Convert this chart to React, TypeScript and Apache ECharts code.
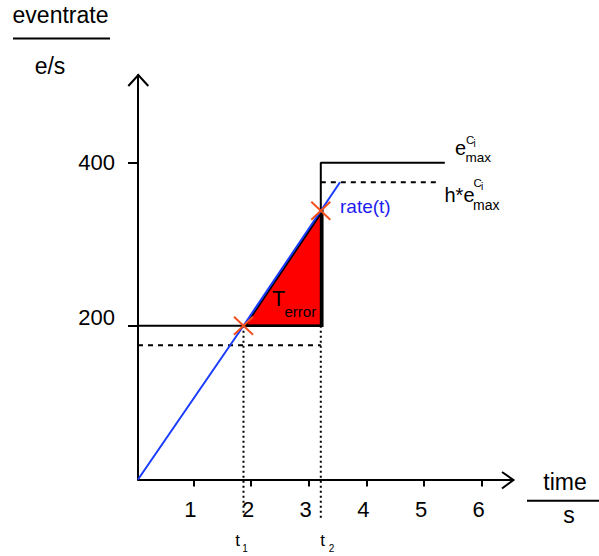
import React, { useEffect, useRef } from "react";
import * as echarts from "echarts";

// ---- data ----
const xTicks = [1, 2, 3, 4, 5, 6];
const yTicks = [200, 400];
const xMin = 0.041;
const xMax = 6.542;
const yMin = 11.3;
const yMax = 507.6;

const rateTime = [0.041, 1.87, 3.543];
const rateValue = [11.3, 200, 376];

const emaxTime = [0.041, 3.21, 3.21, 5.36];
const emaxValue = [200, 200, 400, 400];

const hLowTime = [0.041, 3.21];
const hLowValue = [176, 176];
const hHighTime = [3.21, 5.28];
const hHighValue = [376, 376];

const t1Time = [1.87, 1.87];
const t1Value = [200, -32];
const t2Time = [3.21, 3.21];
const t2Value = [200, -36];

const crossTime = [1.87, 3.21];
const crossValue = [200, 341];

const errorTime = [1.87, 3.21, 3.21];
const errorValue = [200, 200, 341];

// ---- styles ----
const FONT = '"Liberation Sans", Arial, sans-serif';
const BLUE = "#1a3cff";
const CROSS = "#f4511e";

const pairs = (xs: number[], ys: number[]) => xs.map((x, i) => [x, ys[i]]);

function txt(text: string, x: number, base: number, size: number, fill = "#000", align = "left") {
  return {
    type: "text",
    x,
    y: base - 0.3465 * size,
    z: 100,
    silent: true,
    style: {
      text,
      font: `${size}px ${FONT}`,
      fill,
      align,
      textAlign: align,
      verticalAlign: "middle",
      textVerticalAlign: "middle",
    },
  };
}

function hline(x1: number, x2: number, y: number, w = 2) {
  return {
    type: "line",
    z: 100,
    silent: true,
    shape: { x1, y1: y, x2, y2: y },
    style: { stroke: "#000", lineWidth: w },
  };
}

function chevron(points: number[][]) {
  return {
    type: "polyline",
    z: 100,
    silent: true,
    shape: { points },
    style: { stroke: "#000", lineWidth: 2, fill: "none" },
  };
}

function lineSeries(xs: number[], ys: number[], color: string, type: any, width: number, z: number) {
  return {
    type: "line",
    data: pairs(xs, ys),
    showSymbol: false,
    symbol: "none",
    silent: true,
    clip: false,
    z,
    lineStyle: { color, width, type },
  };
}

export default function App() {
  const ref = useRef<HTMLDivElement>(null);
  useEffect(() => {
    if (!ref.current) return;
    const chart = echarts.init(ref.current, undefined, { renderer: "svg" });
    const option: any = {
      animation: false,
      grid: { left: 138, right: 86, top: 75, bottom: 76.5, containLabel: false },
      xAxis: {
        type: "value",
        min: xMin,
        max: xMax,
        splitLine: { show: false },
        axisLine: { show: true, lineStyle: { color: "#000", width: 2 } },
        axisTick: { show: true, customValues: xTicks, length: 7, lineStyle: { color: "#000", width: 2 } },
        axisLabel: {
          customValues: xTicks,
          margin: 19,
          color: "#000",
          fontSize: 22,
          fontFamily: FONT,
          padding: [0, 6, 0, 0],
        },
      },
      yAxis: {
        type: "value",
        min: yMin,
        max: yMax,
        splitLine: { show: false },
        axisLine: { show: true, lineStyle: { color: "#000", width: 2 } },
        axisTick: { show: true, customValues: yTicks, length: 10, lineStyle: { color: "#000", width: 2 } },
        axisLabel: {
          customValues: yTicks,
          margin: 23,
          formatter: (v: number) => (v === 200 ? `{up|${v}}` : `{n|${v}}`),
          rich: {
            up: { fontSize: 22, fontFamily: FONT, color: "#000", padding: [0, 0, 16, 0] },
            n: { fontSize: 22, fontFamily: FONT, color: "#000" },
          },
        },
      },
      series: [
        {
          type: "custom",
          silent: true,
          z: 2,
          data: [[errorTime[0], errorValue[0]]],
          renderItem: (_p: any, api: any) => ({
            type: "polygon",
            shape: {
              points: errorTime.map((t, i) => {
                const c = api.coord([t, errorValue[i]]);
                return [c[0] + 1.5, c[1]];
              }),
            },
            style: { fill: "#ff0000", stroke: "#000", lineWidth: 2.5 },
          }),
        },
        lineSeries(emaxTime, emaxValue, "#000", "solid", 2, 3),
        lineSeries(hLowTime, hLowValue, "#000", [5, 5], 2, 3),
        lineSeries(hHighTime, hHighValue, "#000", [5, 5], 2, 3),
        lineSeries(t1Time, t1Value, "#000", [2, 3], 2, 3),
        lineSeries(t2Time, t2Value, "#000", [2, 3], 2, 3),
        lineSeries(rateTime, rateValue, BLUE, "solid", 2, 4),
        {
          type: "custom",
          silent: true,
          z: 5,
          clip: false,
          data: pairs(crossTime, crossValue),
          renderItem: (_p: any, api: any) => {
            const c = api.coord([api.value(0), api.value(1)]);
            const rx = 9.5;
            const ry = 9;
            return {
              type: "group",
              children: [
                { type: "line", shape: { x1: c[0] - rx, y1: c[1] - ry, x2: c[0] + rx, y2: c[1] + ry }, style: { stroke: CROSS, lineWidth: 2 } },
                { type: "line", shape: { x1: c[0] - rx, y1: c[1] + ry, x2: c[0] + rx, y2: c[1] - ry }, style: { stroke: CROSS, lineWidth: 2 } },
              ],
            };
          },
        },
      ],
      graphic: [
        // axis arrows
        chevron([[502, 472], [513.5, 480], [502, 488.5]]),
        chevron([[128.3, 86], [138.3, 75], [148.3, 86]]),
        // y axis name (fraction)
        txt("eventrate", 60.5, 23.3, 23, "#000", "center"),
        hline(13, 110, 38.5),
        txt("e/s", 50, 73.5, 23, "#000", "center"),
        // x axis name (fraction)
        txt("time", 565, 490, 23, "#000", "center"),
        hline(527, 599, 500.7),
        txt("s", 569, 522.5, 23, "#000", "center"),
        // t1, t2
        txt("t", 237.5, 546.5, 17, "#000", "center"),
        txt("1", 245, 551.7, 10, "#000", "center"),
        txt("t", 322.5, 546.5, 17, "#000", "center"),
        txt("2", 331.5, 551.7, 10, "#000", "center"),
        // e_max^{Ci}
        txt("e", 455, 155, 20),
        txt("C", 466, 143.5, 11.5),
        txt("i", 473.5, 146.5, 10),
        txt("max", 465.5, 162.5, 13.5),
        // h*e_max^{Ci}
        txt("h*e", 444.5, 201.7, 20),
        txt("C", 473.5, 187, 11.5),
        txt("i", 481, 190, 10),
        txt("max", 473, 210, 14),
        // rate(t)
        txt("rate(t)", 340, 213.3, 19, "#1c1cf0"),
        // T_error
        txt("T", 272, 306, 21.5),
        txt("error", 284.5, 316.7, 15),
      ],
    };
    chart.setOption(option);
    return () => chart.dispose();
  }, []);
  return <div ref={ref} style={{ position: "absolute", left: 0, top: 0, width: 599, height: 556 }} />;
}
